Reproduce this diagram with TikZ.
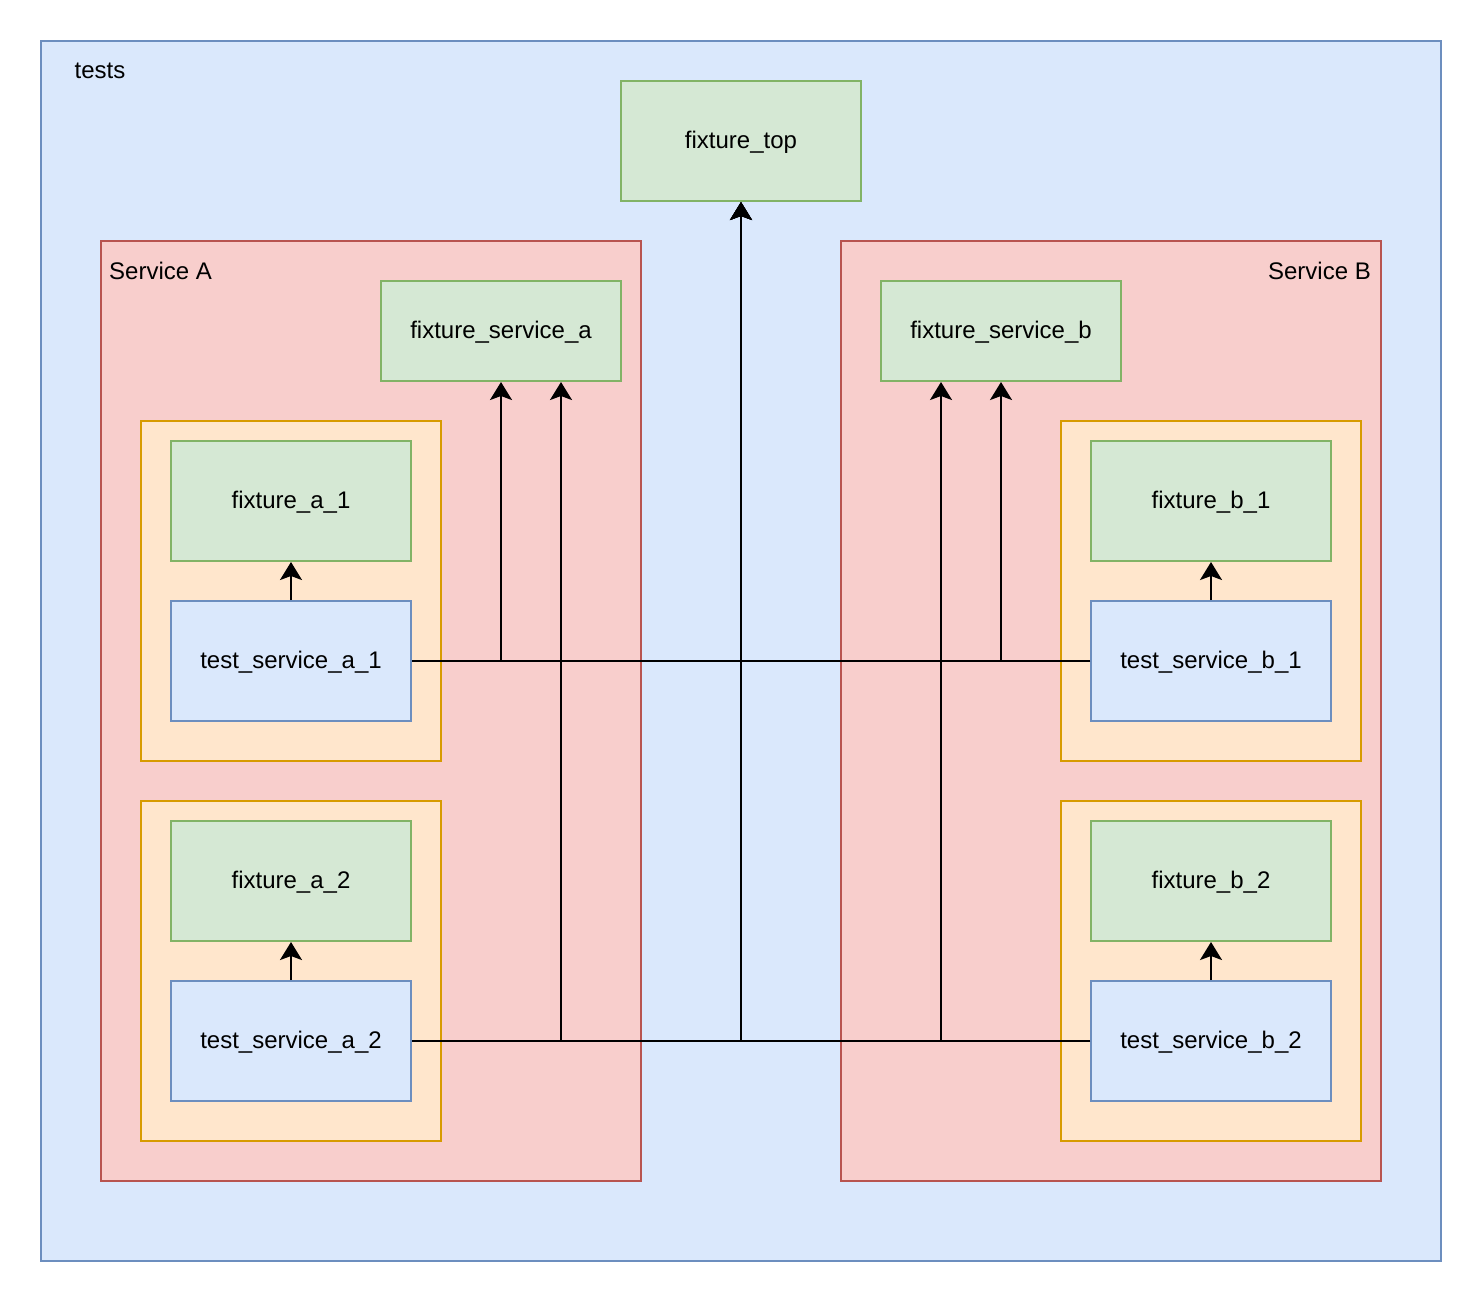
\documentclass[tikz,border=0pt]{standalone}
\usepackage{fontspec}
\setmainfont{Liberation Sans}
\usetikzlibrary{arrows.meta}
\definecolor{bluefill}{HTML}{DAE8FC}
\definecolor{bluedraw}{HTML}{6C8EBF}
\definecolor{greenfill}{HTML}{D5E8D4}
\definecolor{greendraw}{HTML}{82B366}
\definecolor{redfill}{HTML}{F8CECC}
\definecolor{reddraw}{HTML}{B85450}
\definecolor{orangefill}{HTML}{FFE6CC}
\definecolor{orangedraw}{HTML}{D79B00}
\tikzset{
  box/.style={line width=2pt, inner sep=0pt, anchor=north west, font=\fontsize{24}{28}\selectfont},
  fix/.style={box, fill=greenfill, draw=greendraw},
  testbox/.style={box, fill=bluefill, draw=bluedraw},
  svc/.style={box, fill=redfill, draw=reddraw},
  grp/.style={box, fill=orangefill, draw=orangedraw},
  lbl/.style={font=\fontsize{24}{28}\selectfont, inner sep=0pt},
  conn/.style={line width=2pt, -{Stealth[length=18pt,width=22pt,inset=4pt]}},
}
\begin{document}
\begin{tikzpicture}[x=1pt,y=-1pt]
\useasboundingbox (0,0) rectangle (1482,1302);
% outer
\node[box, fill=bluefill, draw=bluedraw, minimum width=1400pt, minimum height=1220pt] (tests) at (40,40) {};
\node[lbl] (testslbl) at (100,71) {tests};
\node[fix, minimum width=240pt, minimum height=120pt, align=center] (top) at (620,80) {};
\node[lbl] at ([yshift=-1pt]top.center) {fixture\_top};
% services
\node[svc, minimum width=540pt, minimum height=940pt] (sa) at (100,240) {};
\node[lbl, anchor=west] (salbl) at (109,271) {Service A};
\node[svc, minimum width=540pt, minimum height=940pt] (sb) at (840,240) {};
\node[lbl, anchor=east] (sblbl) at (1371,271) {Service B};
\node[fix, minimum width=240pt, minimum height=100pt] (fsa) at (380,280) {};
\node[lbl] at ([yshift=-1pt]fsa.center) {fixture\_service\_a};
\node[fix, minimum width=240pt, minimum height=100pt] (fsb) at (880,280) {};
\node[lbl] at ([yshift=-1pt]fsb.center) {fixture\_service\_b};
% groups
\node[grp, minimum width=300pt, minimum height=340pt] (ga1) at (140,420) {};
\node[grp, minimum width=300pt, minimum height=340pt] (ga2) at (140,800) {};
\node[grp, minimum width=300pt, minimum height=340pt] (gb1) at (1060,420) {};
\node[grp, minimum width=300pt, minimum height=340pt] (gb2) at (1060,800) {};
% inner
\node[fix, minimum width=240pt, minimum height=120pt] (fa1) at (170,440) {};
\node[lbl] at ([yshift=-1pt]fa1.center) {fixture\_a\_1};
\node[testbox, minimum width=240pt, minimum height=120pt] (ta1) at (170,600) {};
\node[lbl] at ([yshift=-1pt]ta1.center) {test\_service\_a\_1};
\node[fix, minimum width=240pt, minimum height=120pt] (fa2) at (170,820) {};
\node[lbl] at ([yshift=-1pt]fa2.center) {fixture\_a\_2};
\node[testbox, minimum width=240pt, minimum height=120pt] (ta2) at (170,980) {};
\node[lbl] at ([yshift=-1pt]ta2.center) {test\_service\_a\_2};
\node[fix, minimum width=240pt, minimum height=120pt] (fb1) at (1090,440) {};
\node[lbl] at ([yshift=-1pt]fb1.center) {fixture\_b\_1};
\node[testbox, minimum width=240pt, minimum height=120pt] (tb1) at (1090,600) {};
\node[lbl] at ([yshift=-1pt]tb1.center) {test\_service\_b\_1};
\node[fix, minimum width=240pt, minimum height=120pt] (fb2) at (1090,820) {};
\node[lbl] at ([yshift=-1pt]fb2.center) {fixture\_b\_2};
\node[testbox, minimum width=240pt, minimum height=120pt] (tb2) at (1090,980) {};
\node[lbl] at ([yshift=-1pt]tb2.center) {test\_service\_b\_2};
% connectors
\draw[conn] (ta1.north) -- (fa1.south);
\draw[conn] (ta2.north) -- (fa2.south);
\draw[conn] (tb1.north) -- (fb1.south);
\draw[conn] (tb2.north) -- (fb2.south);
\draw[conn] (ta1.east) -| (fsa.south);
\draw[conn] (ta2.east) -| ([xshift=60pt]fsa.south);
\draw[conn] (tb1.west) -| (fsb.south);
\draw[conn] (tb2.west) -| ([xshift=-60pt]fsb.south);
\draw[conn] (ta1.east) -| (top.south);
\draw[conn] (tb1.west) -| (top.south);
\draw[conn] (ta2.east) -| (top.south);
\draw[conn] (tb2.west) -| (top.south);
\end{tikzpicture}
\end{document}
